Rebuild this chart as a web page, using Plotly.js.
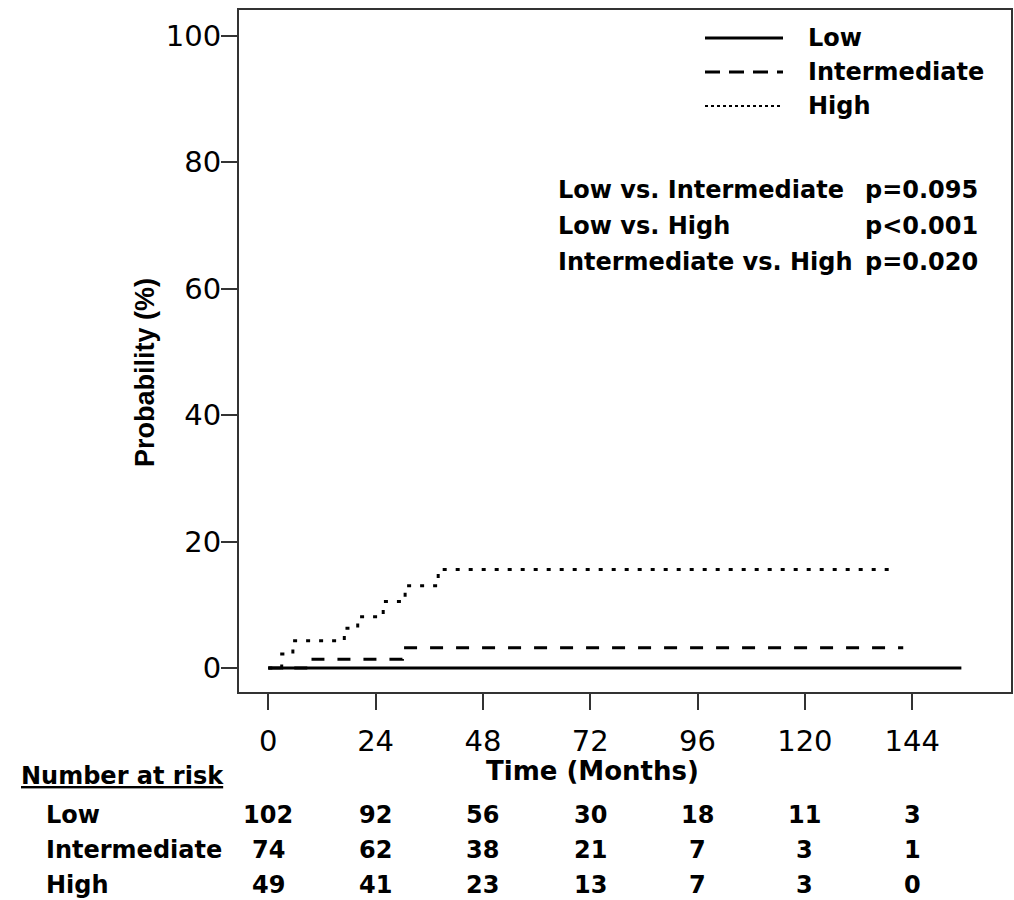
<!DOCTYPE html>
<html>
<head>
<meta charset="utf-8">
<script src="https://cdn.plot.ly/plotly-3.0.1.min.js"></script>
<style>
html,body{margin:0;padding:0;background:#fff;}
#chart{width:1014px;height:900px;}
</style>
</head>
<body>
<div id="chart"></div>
<script>
// ---- Data ----
var groups = ["Low", "Intermediate", "High"];
var lowX = [0, 155];
var lowY = [0, 0];
var intX = [0, 10, 30, 142];
var intY = [0, 1.4, 3.2, 3.2];
var highX = [0, 3, 5.5, 17, 20, 25.7, 30.6, 38, 140];
var highY = [0, 2.2, 4.3, 6.3, 8.1, 10.5, 13.0, 15.6, 15.6];
var xTicks = [0, 24, 48, 72, 96, 120, 144];
var yTicks = [0, 20, 40, 60, 80, 100];
var riskLow = [102, 92, 56, 30, 18, 11, 3];
var riskInt = [74, 62, 38, 21, 7, 3, 1];
var riskHigh = [49, 41, 23, 13, 7, 3, 0];
var compLabels = ["Low vs. Intermediate", "Low vs. High", "Intermediate vs. High"];
var compP = ["p=0.095", "p<0.001", "p=0.020"];

// ---- Layout helpers ----
var FONT = "DejaVu Sans, Liberation Sans, Arial, sans-serif";
var FONT2 = "Liberation Sans, Arial, sans-serif";
var L = 239, R = 1011, T = 10, B = 692, W = 1014, H = 900;
function px(x){ return (x - L) / (R - L); }
function py(y){ return (B - y) / (B - T); }

var lineStyles = [
  {color:"#000", width:3, dash:"solid"},
  {color:"#000", width:3, dash:"13px,13px"},
  {color:"#000", width:3, dash:"4px,9px"}
];

var traces = [
  {x: lowX, y: lowY, name: groups[0], mode:"lines", line: Object.assign({shape:"hv"}, lineStyles[0])},
  {x: intX, y: intY, name: groups[1], mode:"lines", line: Object.assign({shape:"hv"}, lineStyles[1])},
  {x: highX, y: highY, name: groups[2], mode:"lines", line: Object.assign({shape:"hv"}, lineStyles[2])}
];

var annotations = [];
var shapes = [];
var TXT = 24;

// Legend (manual, long line samples)
var legY = [38, 72, 106];
var legDash = ["solid", "15px,9px", "3px,3px"];
var legWidth = [3, 3, 2];
for (var i = 0; i < groups.length; i++) {
  shapes.push({type:"line", xref:"paper", yref:"paper", x0:px(705), x1:px(783), y0:py(legY[i]), y1:py(legY[i]),
    line:{color:"#000", width:legWidth[i], dash:legDash[i]}});
  annotations.push({xref:"paper", yref:"paper", x:px(806), y:py(legY[i]), xanchor:"left", yanchor:"middle",
    text:"<b>"+groups[i]+"</b>", showarrow:false, font:{family:FONT, size:TXT, color:"#000"}});
}

// Comparison p-values
var compY = [190, 226, 262];
for (var j = 0; j < compLabels.length; j++) {
  annotations.push({xref:"paper", yref:"paper", x:px(556), y:py(compY[j]), xanchor:"left", yanchor:"middle",
    text:"<b>"+compLabels[j]+"</b>", showarrow:false, font:{family:FONT, size:TXT, color:"#000"}});
  annotations.push({xref:"paper", yref:"paper", x:px(980), y:py(compY[j]), xanchor:"right", yanchor:"middle",
    text:"<b>"+compP[j]+"</b>", showarrow:false, font:{family:FONT, size:TXT, color:"#000"}});
}

// Axis titles
annotations.push({xref:"paper", yref:"paper", x:px(145), y:py(373), xanchor:"center", yanchor:"middle", textangle:-90,
  text:"<b>Probability (%)</b>", showarrow:false, font:{family:FONT2, size:27, color:"#000"}});
annotations.push({xref:"paper", yref:"paper", x:px(592), y:py(771), xanchor:"center", yanchor:"middle",
  text:"<b>Time (Months)</b>", showarrow:false, font:{family:FONT, size:26, color:"#000"}});

// Number at risk table
annotations.push({xref:"paper", yref:"paper", x:px(19), y:py(776), xanchor:"left", yanchor:"middle",
  text:"<b><u>Number at risk</u></b>", showarrow:false, font:{family:FONT, size:TXT, color:"#000"}});
var riskRows = [riskLow, riskInt, riskHigh];
var riskY = [815, 850, 885];
for (var r = 0; r < riskRows.length; r++) {
  annotations.push({xref:"paper", yref:"paper", x:px(44), y:py(riskY[r]), xanchor:"left", yanchor:"middle",
    text:"<b>"+groups[r]+"</b>", showarrow:false, font:{family:FONT, size:TXT, color:"#000"}});
  for (var c = 0; c < xTicks.length; c++) {
    annotations.push({xref:"x", yref:"paper", x:xTicks[c], y:py(riskY[r]), xanchor:"center", yanchor:"middle",
      text:"<b>"+riskRows[r][c]+"</b>", showarrow:false, font:{family:FONT, size:TXT, color:"#000"}});
  }
}

var layout = {
  width: W, height: H,
  margin: {l: L, r: W - R, t: T, b: H - B, pad: 0},
  paper_bgcolor: "#fff", plot_bgcolor: "#fff",
  showlegend: false,
  xaxis: {
    range: [-6.55, 166.1], tickvals: xTicks, ticktext: xTicks.map(String),
    ticks: "outside", ticklen: 16, tickwidth: 2, tickcolor: "#333",
    showline: true, mirror: true, linewidth: 2, linecolor: "#333",
    showgrid: false, zeroline: false, ticklabelstandoff: 6,
    tickfont: {family: FONT, size: 29, color: "#000"}
  },
  yaxis: {
    range: [-3.8, 104.1], tickvals: yTicks, ticktext: yTicks.map(String),
    ticks: "outside", ticklen: 16, tickwidth: 2, tickcolor: "#333",
    showline: true, mirror: true, linewidth: 2, linecolor: "#333",
    showgrid: false, zeroline: false, ticklabelstandoff: -6,
    tickfont: {family: FONT, size: 29, color: "#000"}
  },
  annotations: annotations,
  shapes: shapes
};

Plotly.newPlot("chart", traces, layout, {displayModeBar: false, staticPlot: true});
</script>
</body>
</html>
